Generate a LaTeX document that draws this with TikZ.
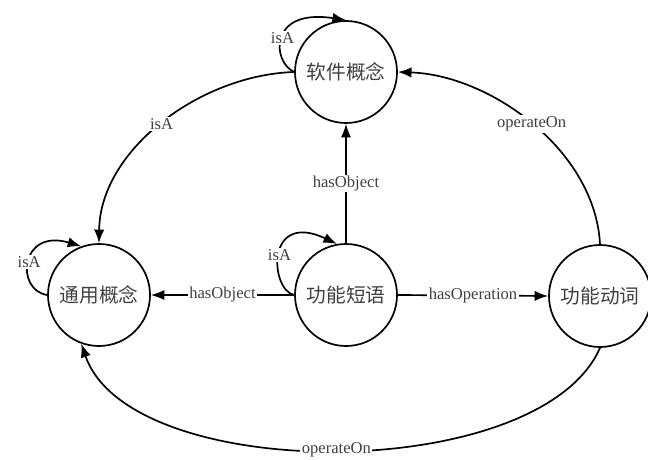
\documentclass[tikz,border=0pt]{standalone}
\usepackage{fontspec}
\setmainfont{Liberation Serif}
\newfontfamily\cjk{Noto Sans CJK SC}
\usetikzlibrary{positioning, calc, arrows.meta}

\begin{document}
\begin{tikzpicture}[x=0.025cm, y=-0.025cm, line width=1.2pt, >={Latex[length=3.4mm,width=2.6mm]}, font=\fontsize{11.8}{13}\selectfont]

    % Custom styles for the concepts and the relation labels
    \tikzset{
        concept/.style={circle, draw, minimum size=2.55cm, inner sep=0pt, text=black!75,
            font=\cjk\fontsize{14}{16}\selectfont},
        rel/.style={fill=white, inner sep=1pt, text=black!75}
    }

    \useasboundingbox (0,0) rectangle (648,459);

    % ==========================================
    % Concepts
    % ==========================================
    \node[concept] (software) at (346,72) {软件概念};
    \node[concept] (general) at (99,295) {通用概念};
    \node[concept] (phrase) at (346,295) {功能短语};
    \node[concept] (verb) at (600,296) {功能动词};

    % ==========================================
    % Relations
    % ==========================================
    % isA loops
    \draw[->] (software.west) .. controls (272,62) and (268,8) .. (software.north) node[rel, pos=0.5] {isA};
    \draw[->] (general.west) .. controls (15,290) and (20,228) .. (general.110) node[rel, pos=0.5] {isA};
    \draw[->] (phrase.west) .. controls (270,290) and (265,210) .. (phrase.100) node[rel, pos=0.5] {isA};

    % Straight relations of the phrase
    \draw[->] (phrase.north) -- (software.south) node[rel, midway] {hasObject};
    \draw[->] (phrase.west) -- (general.east) node[rel, midway] {hasObject};
    \draw[->] (phrase.east) -- (verb.west) node[rel, midway] {hasOperation};

    % Curved relations
    \draw[->] (software.west) .. controls (200,75) and (100,150) .. (general.north) node[rel, pos=0.5] {isA};
    \draw[->] (verb.north) .. controls (595,150) and (490,75) .. (software.east) node[rel, pos=0.5] {operateOn};
    \draw[->] (verb.south) .. controls (540,485) and (130,485) .. (general.250) node[rel, pos=0.5] {operateOn};

\end{tikzpicture}
\end{document}
